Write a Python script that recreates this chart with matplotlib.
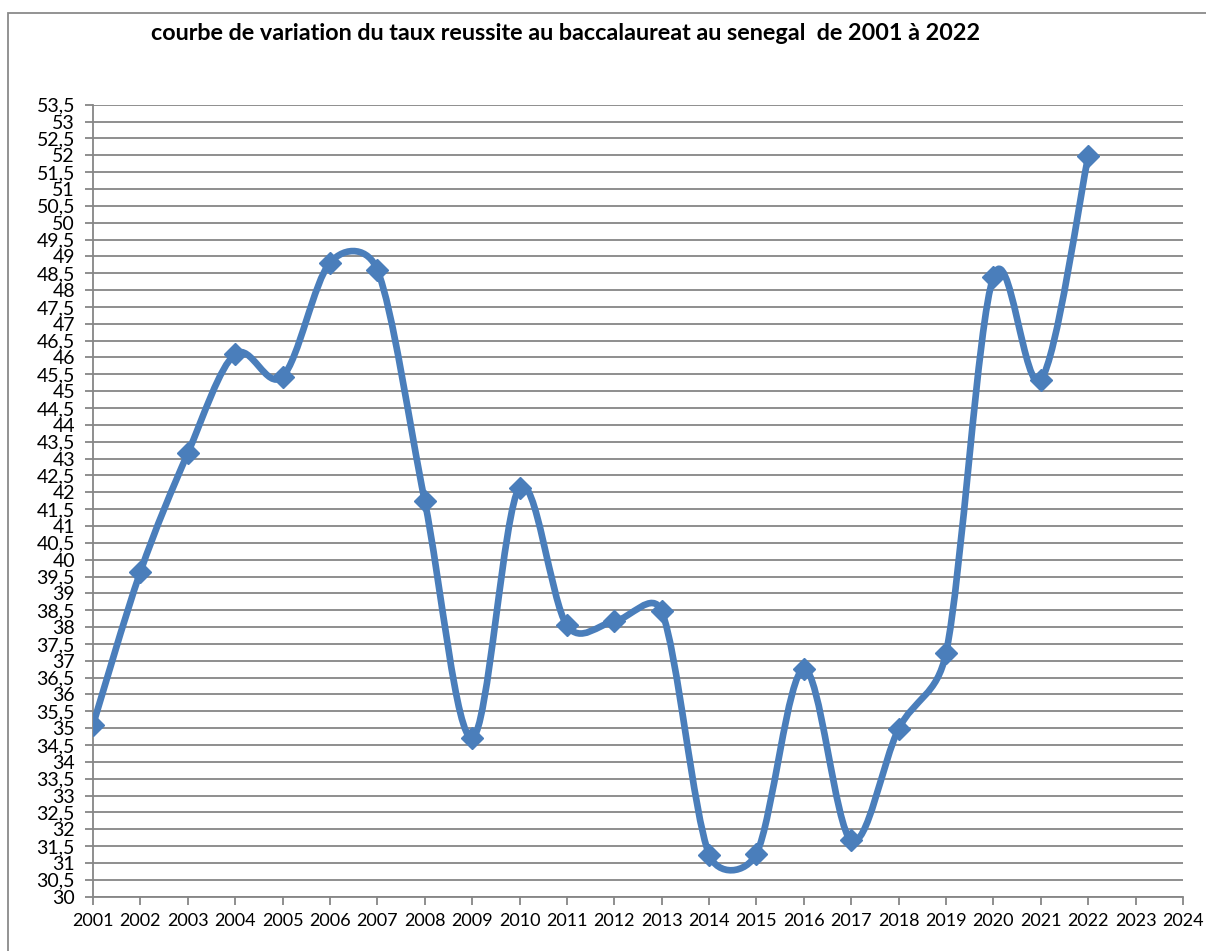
import matplotlib.pyplot as plt
from matplotlib.path import Path
from matplotlib.patches import PathPatch, Rectangle
import numpy as np

annees = [2001, 2002, 2003, 2004, 2005, 2006, 2007, 2008, 2009, 2010, 2011,
          2012, 2013, 2014, 2015, 2016, 2017, 2018, 2019, 2020, 2021, 2022]
taux = [35.1, 39.64, 43.16, 46.1, 45.43, 48.81, 48.6, 41.74, 34.71, 42.14, 38.05,
        38.17, 38.47, 31.25, 31.28, 36.76, 31.67, 34.98, 37.23, 48.4, 45.33, 51.97]
ticks_x = list(range(2001, 2025))
ticks_y = np.arange(30, 53.51, 0.5)

plt.rcParams['font.family'] = ['Lato', 'DejaVu Sans']

bleu = '#4a7ebb'
gris = '#868686'

fig = plt.figure(figsize=(12.06, 9.51), dpi=100)
ax = fig.add_axes([93 / 1206, 1 - 896.7 / 951, (1183 - 93) / 1206, (896.7 - 104.7) / 951])
ax.set_xlim(2001, 2024)
ax.set_ylim(30, 53.5)

# cadre du graphique (coupe a droite et en bas)
fig.add_artist(Rectangle((8 / 1206, -0.1), 1.2, 1 - 13 / 951 + 0.1, transform=fig.transFigure,
                         fill=False, edgecolor='#8a8a8a', linewidth=1.3))

# courbe lissee facon Excel : Bezier Catmull-Rom calculee en pixels,
# poignees limitees a la moitie du segment
pts = ax.transData.transform(np.column_stack([annees, taux]))
n = len(pts)


def poignee(vec, seg):
    lg = np.hypot(*vec)
    lim = np.hypot(*seg) / 2
    if lg > lim:
        vec = vec * lim / lg
    return vec


verts = [pts[0]]
codes = [Path.MOVETO]
for i in range(n - 1):
    i0 = max(i - 1, 0)
    i3 = min(i + 2, n - 1)
    seg = pts[i + 1] - pts[i]
    c1 = pts[i] + poignee((pts[i + 1] - pts[i0]) / 6, seg)
    c2 = pts[i + 1] - poignee((pts[i3] - pts[i]) / 6, seg)
    verts += [c1, c2, pts[i + 1]]
    codes += [Path.CURVE4] * 3
verts = ax.transData.inverted().transform(np.array(verts))
ax.add_patch(PathPatch(Path(verts, codes), facecolor='none', edgecolor=bleu,
                       linewidth=4.8, capstyle='round', joinstyle='round', zorder=3))
ax.plot(annees, taux, linestyle='none', marker='D', markersize=11.5, color=bleu, zorder=4)

ax.set_xticks(ticks_x)
ax.set_xticklabels([str(a) for a in ticks_x], fontsize=13)
ax.set_yticks(ticks_y)
ax.set_yticklabels([('%g' % v).replace('.', ',') for v in ticks_y], fontsize=14)
ax.yaxis.grid(True, color=gris, linewidth=1.3)
ax.set_axisbelow(True)
ax.tick_params(axis='both', direction='out', length=6, width=1.3, color=gris)
ax.tick_params(axis='y', pad=7)
ax.tick_params(axis='x', pad=6)
for s in ['top', 'right']:
    ax.spines[s].set_visible(False)
for s in ['left', 'bottom']:
    ax.spines[s].set_color(gris)
    ax.spines[s].set_linewidth(1.3)

fig.text(566 / 1206, 1 - 33 / 951, 'courbe de variation du taux reussite au baccalaureat au senegal  de 2001 à 2022',
         ha='center', va='center', fontsize=16.8, fontweight='bold')

fig.savefig('out.png', dpi=100)
